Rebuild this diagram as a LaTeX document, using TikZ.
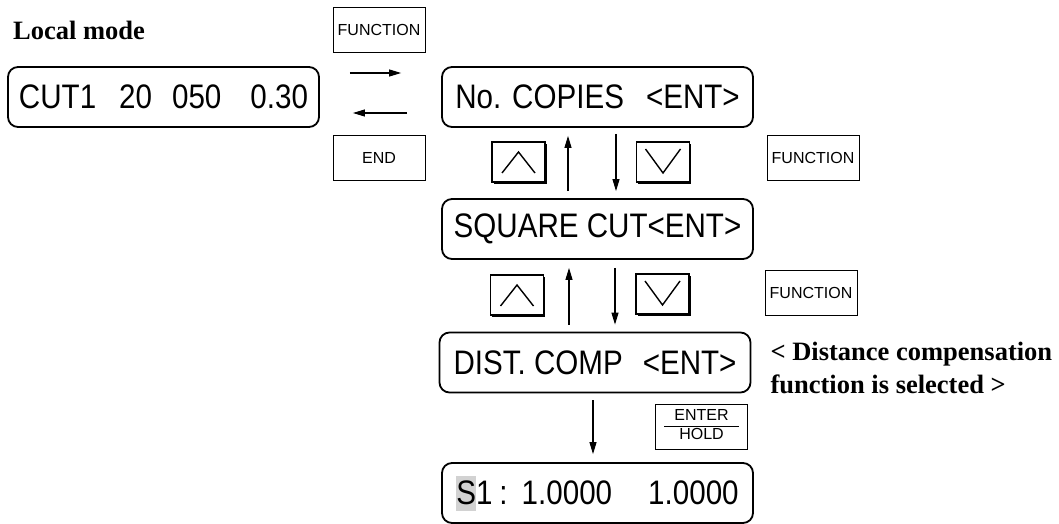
\documentclass[tikz,border=0pt]{standalone}
\usepackage{fontspec}
\setmainfont{Liberation Serif}
\setsansfont{Liberation Sans}
\newfontfamily\lcdfont[FakeStretch=0.87]{Liberation Sans}
\usetikzlibrary{arrows.meta, positioning, shadows}
\definecolor{cursorgray}{HTML}{D2D2D2}
\setlength\fboxsep{0pt}

\begin{document}
\begin{tikzpicture}[
  x=1pt, y=-1pt,
  lcd/.style={draw, rounded corners=10pt, line width=1.8pt, minimum width=311pt, minimum height=60pt, inner sep=0pt, font=\lcdfont\fontsize{34}{38}\selectfont},
  keybox/.style={draw, line width=0.9pt, minimum width=92pt, minimum height=45pt, inner sep=0pt, font=\sffamily\fontsize{16}{18}\selectfont},
  arrowkey/.style={draw, fill=white, line width=1.1pt, minimum width=53pt, minimum height=40pt, drop shadow={shadow xshift=1.6pt, shadow yshift=-1.6pt, fill=black, opacity=1}},
  upkey/.style={arrowkey, path picture={
    \draw[line width=1.4pt] ([xshift=10pt, yshift=9pt]path picture bounding box.south west)
      -- ([yshift=-10pt]path picture bounding box.north)
      -- ([xshift=-10pt, yshift=9pt]path picture bounding box.south east);}},
  downkey/.style={arrowkey, path picture={
    \draw[line width=1.4pt] ([xshift=9pt, yshift=-7pt]path picture bounding box.north west)
      -- ([yshift=9pt]path picture bounding box.south)
      -- ([xshift=-9pt, yshift=-7pt]path picture bounding box.north east);}},
  note/.style={font=\bfseries\fontsize{26.5}{33}\selectfont, align=left, inner sep=0pt},
  flow/.style={-{Triangle[length=12pt, width=7pt]}, line width=1.1pt}
]
  \useasboundingbox (0,0) rectangle (1059,524);

  % local mode and the menu entry
  \node[note, anchor=base west] (title) at (13,40) {Local mode};
  \node[keybox] (fnone) at (379,29.5) {FUNCTION};
  \node[lcd] (cut) at (163.5,97) {CUT1\hspace{23pt}20\hspace{20pt}050\hspace{29pt}0.30};
  \node[lcd] (copies) at (597.5,97) {No. COPIES\hspace{22pt}<ENT>};
  \node[keybox] (endkey) at (379,158) {END};

  \draw[flow] ([xshift=30pt, yshift=24pt]cut.east) -- ([xshift=-40pt, yshift=24pt]copies.west);
  \draw[flow] ([xshift=-34pt, yshift=-16pt]copies.west) -- ([xshift=33pt, yshift=-16pt]cut.east);

  % first step
  \node[upkey] (upone) at (518.5,162) {};
  \node[downkey] (downone) at (663,162) {};
  \node[keybox] (fntwo) at (813,158) {FUNCTION};
  \node[lcd] (square) at (597.5,229) {SQUARE CUT<ENT>};

  \draw[flow] ([xshift=-29.5pt, yshift=7pt]square.north) -- ([xshift=-29.5pt, yshift=-8pt]copies.south);
  \draw[flow] ([xshift=18.5pt, yshift=-6pt]copies.south) -- ([xshift=18.5pt, yshift=7pt]square.north);

  % second step
  \node[upkey] (uptwo) at (517,295) {};
  \node[downkey] (downtwo) at (662.5,294) {};
  \node[keybox] (fnthree) at (811,292.5) {FUNCTION};
  \node[lcd] (dist) at (595,362.5) {DIST. COMP\hspace{20pt}<ENT>};
  \node[note, right=19pt of dist, yshift=-5pt] (hint) {< Distance compensation\\function is selected >};

  \draw[flow] ([xshift=-26pt, yshift=7pt]dist.north) -- ([xshift=-28.5pt, yshift=-8pt]square.south);
  \draw[flow] ([xshift=17.5pt, yshift=-8pt]square.south) -- ([xshift=20pt, yshift=7pt]dist.north);

  % enter
  \node[keybox] (enter) at (701.5,426.5) {\setlength\tabcolsep{10pt}\begin{tabular}{c}ENTER\\\hline HOLD\end{tabular}};
  \node[lcd] (sone) at (597.5,493) {\colorbox{cursorgray}{\rule[-6pt]{0pt}{35pt}S}1\hspace{7pt}:\hspace{14pt}1.0000\hspace{36pt}1.0000};

  \draw[flow] ([xshift=-2pt, yshift=-7pt]dist.south) -- ([xshift=-4.5pt, yshift=8pt]sone.north);
\end{tikzpicture}
\end{document}
